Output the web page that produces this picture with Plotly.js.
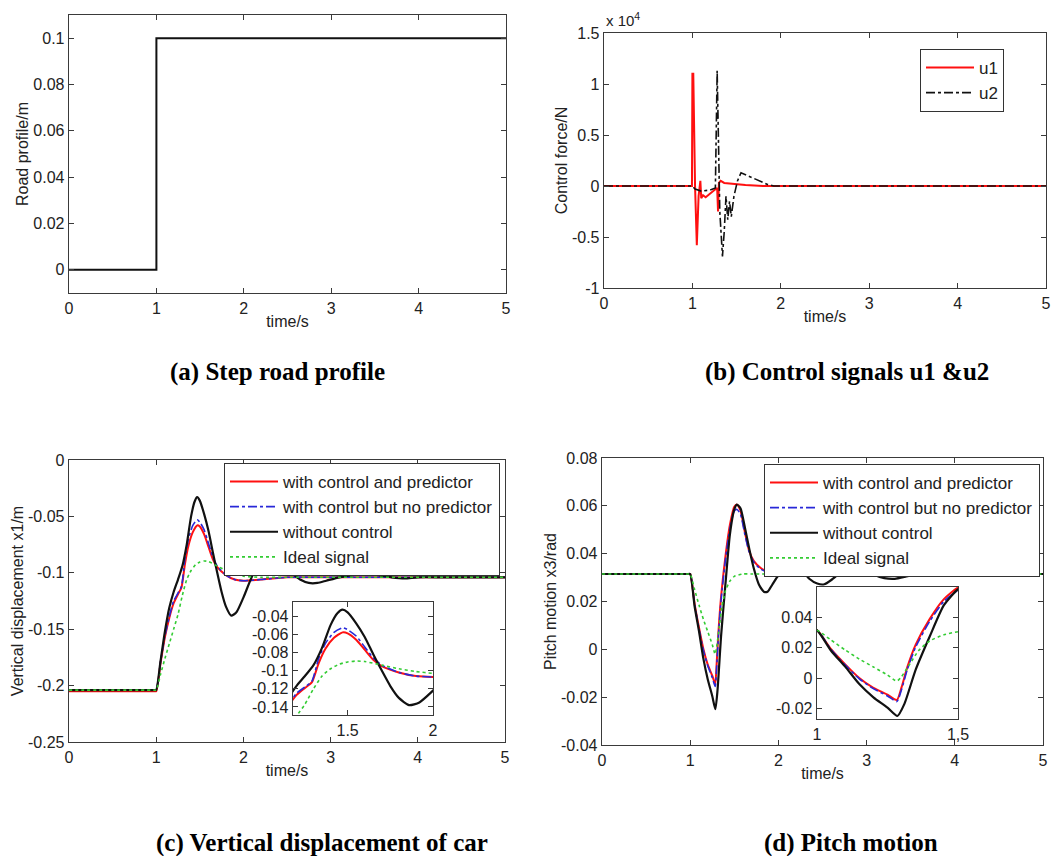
<!DOCTYPE html>
<html><head><meta charset="utf-8">
<script src="https://cdn.plot.ly/plotly-3.0.1.min.js"></script>
<style>html,body{margin:0;padding:0;background:#fff}#chart{width:1051px;height:856px}</style>
</head><body><div id="chart"></div>
<script>
// ---------- (a) Step road profile ----------
const roadT = [0, 1, 1, 5];
const roadY = [0, 0, 0.1, 0.1];

// ---------- (b) Control signals (N) ----------
const u1T = [0, 0.995, 1.0, 1.01, 1.03, 1.05, 1.07, 1.09, 1.1, 1.12, 1.15, 1.2, 1.25, 1.28, 1.29, 1.30, 1.32, 1.36, 1.45, 1.6, 1.8, 5];
const u1  = [0, 0, 11000, 11000, 0, -5800, -1000, 500, -1200, -900, -1100, -700, -400, -200, -2500, 300, 500, 300, 200, 100, 0, 0];
const u2T = [0, 1.0, 1.03, 1.1, 1.2, 1.26, 1.28, 1.29, 1.31, 1.34, 1.36, 1.38, 1.40, 1.42, 1.44, 1.47, 1.51, 1.55, 1.65, 1.75, 1.85, 1.92, 5];
const u2  = [0, 0, -300, -500, -400, -200, 11300, 5000, -2500, -6900, -4500, -1000, -3300, -1500, -3000, -1000, 500, 1300, 900, 500, 150, 0, 0];

// ---------- (c) Vertical displacement x1 (m) ----------
const cPredT = [0, 0.98, 1.0, 1.05, 1.1, 1.15, 1.2, 1.25, 1.29, 1.33, 1.37, 1.42, 1.47, 1.5, 1.55, 1.6, 1.65, 1.7, 1.8, 1.9, 2.0, 2.2, 2.5, 3, 4, 5];
const cPred  = [-0.205, -0.205, -0.205, -0.18, -0.157, -0.14, -0.127, -0.119, -0.113, -0.092, -0.076, -0.064, -0.058, -0.059, -0.066, -0.077, -0.088, -0.095, -0.102, -0.106, -0.107, -0.106, -0.104, -0.104, -0.104, -0.104];
const cNoPredT = [0, 0.98, 1.0, 1.05, 1.1, 1.15, 1.2, 1.25, 1.29, 1.33, 1.37, 1.42, 1.47, 1.5, 1.55, 1.6, 1.65, 1.7, 1.8, 1.9, 2.0, 2.2, 2.5, 3, 4, 5];
const cNoPred  = [-0.204, -0.204, -0.204, -0.179, -0.156, -0.139, -0.125, -0.118, -0.112, -0.087, -0.07, -0.058, -0.053, -0.055, -0.062, -0.074, -0.086, -0.094, -0.102, -0.106, -0.107, -0.106, -0.104, -0.104, -0.104, -0.104];
const cNoCtrlT = [0, 0.98, 1.0, 1.05, 1.1, 1.15, 1.2, 1.25, 1.3, 1.35, 1.4, 1.44, 1.47, 1.5, 1.55, 1.6, 1.65, 1.7, 1.75, 1.8, 1.86, 1.92, 2.0, 2.1, 2.2, 2.3, 2.4, 2.5, 2.65, 2.75, 2.85, 2.95, 3.1, 3.25, 3.4, 3.55, 3.7, 3.85, 4.0, 4.3, 4.6, 5.0];
const cNoCtrl  = [-0.204, -0.204, -0.204, -0.178, -0.152, -0.131, -0.117, -0.106, -0.094, -0.075, -0.05, -0.037, -0.033, -0.036, -0.048, -0.063, -0.082, -0.1, -0.117, -0.13, -0.138, -0.135, -0.122, -0.103, -0.091, -0.088, -0.091, -0.097, -0.106, -0.109, -0.109, -0.107, -0.104, -0.102, -0.101, -0.102, -0.104, -0.105, -0.104, -0.104, -0.104, -0.104];
const cIdealT = [0, 0.98, 1.0, 1.05, 1.1, 1.15, 1.2, 1.25, 1.3, 1.35, 1.4, 1.45, 1.5, 1.55, 1.6, 1.7, 1.8, 1.9, 2.0, 2.2, 2.5, 5];
const cIdeal  = [-0.204, -0.204, -0.204, -0.19, -0.176, -0.163, -0.15, -0.137, -0.12, -0.106, -0.098, -0.093, -0.0905, -0.0895, -0.09, -0.094, -0.098, -0.101, -0.103, -0.104, -0.104, -0.104];

// ---------- (d) Pitch motion x3 (rad) ----------
const dPredT = [0, 0.98, 1.0, 1.05, 1.1, 1.15, 1.2, 1.25, 1.283, 1.3, 1.32, 1.35, 1.4, 1.45, 1.5, 1.53, 1.57, 1.62, 1.67, 1.72, 1.8, 1.9, 2.0, 2.5, 5];
const dPred  = [0.0315, 0.0315, 0.0315, 0.019, 0.009, 0.0, -0.0065, -0.011, -0.0145, -0.006, 0.007, 0.022, 0.039, 0.052, 0.0596, 0.0605, 0.058, 0.049, 0.041, 0.037, 0.034, 0.032, 0.0315, 0.0315, 0.0315];
const dNoPredT = [0, 0.98, 1.0, 1.05, 1.1, 1.15, 1.2, 1.25, 1.283, 1.3, 1.32, 1.35, 1.4, 1.45, 1.5, 1.53, 1.57, 1.62, 1.67, 1.72, 1.8, 1.9, 2.0, 2.5, 5];
const dNoPred  = [0.0315, 0.0315, 0.0315, 0.0188, 0.0085, -0.0005, -0.007, -0.0118, -0.0155, -0.0075, 0.0055, 0.0205, 0.0375, 0.0505, 0.0578, 0.0585, 0.0565, 0.048, 0.0405, 0.0365, 0.0335, 0.032, 0.0315, 0.0315, 0.0315];
const dNoCtrlT = [0, 0.98, 1.0, 1.05, 1.1, 1.15, 1.2, 1.25, 1.285, 1.31, 1.35, 1.4, 1.45, 1.5, 1.53, 1.57, 1.62, 1.67, 1.72, 1.78, 1.84, 1.88, 1.93, 2.0, 2.08, 2.17, 2.26, 2.35, 2.44, 2.52, 2.6, 2.7, 2.8, 2.9, 3.0, 3.1, 3.2, 3.32, 3.45, 3.6, 3.75, 3.9, 4.1, 4.4, 5];
const dNoCtrl  = [0.0315, 0.0315, 0.0315, 0.018, 0.0075, -0.004, -0.0127, -0.0195, -0.025, -0.017, 0.0055, 0.0275, 0.048, 0.0585, 0.0605, 0.059, 0.051, 0.042, 0.034, 0.027, 0.024, 0.0242, 0.027, 0.031, 0.034, 0.0355, 0.0335, 0.0295, 0.0275, 0.0272, 0.029, 0.032, 0.0345, 0.0348, 0.0335, 0.031, 0.0298, 0.0295, 0.0305, 0.0318, 0.0322, 0.0318, 0.0312, 0.0315, 0.0315];
const dIdealT = [0, 0.98, 1.0, 1.05, 1.1, 1.15, 1.2, 1.25, 1.283, 1.3, 1.33, 1.36, 1.4, 1.45, 1.5, 1.6, 1.7, 5];
const dIdeal  = [0.0315, 0.0315, 0.0315, 0.025, 0.0185, 0.0125, 0.0073, 0.002, -0.002, 0.001, 0.0095, 0.018, 0.0245, 0.0285, 0.0305, 0.0315, 0.0315, 0.0315];

// tick labels
const aTickV = [0, 0.02, 0.04, 0.06, 0.08, 0.1], aTickT = ['0', '0.02', '0.04', '0.06', '0.08', '0.1'];
const bTickV = [-10000, -5000, 0, 5000, 10000, 15000], bTickT = ['-1', '-0.5', '0', '0.5', '1', '1.5'];
const cTickV = [-0.25, -0.2, -0.15, -0.1, -0.05, 0], cTickT = ['-0.25', '-0.2', '-0.15', '-0.1', '-0.05', '0'];
const dTickV = [-0.04, -0.02, 0, 0.02, 0.04, 0.06, 0.08], dTickT = ['-0.04', '-0.02', '0', '0.02', '0.04', '0.06', '0.08'];
const ciTickV = [-0.14, -0.12, -0.1, -0.08, -0.06, -0.04], ciTickT = ['-0.14', '-0.12', '-0.1', '-0.08', '-0.06', '-0.04'];
const ciXV = [1.5, 2], ciXT = ['1.5', '2'];
const diTickV = [-0.02, 0, 0.02, 0.04], diTickT = ['-0.02', '0', '0.02', '0.04'];
const diXV = [1, 1.5], diXT = ['1', '1,5'];
const tTickV = [0, 1, 2, 3, 4, 5];

const names = ['with control and predictor', 'with control but no predictor', 'without control', 'Ideal signal'];

const FONT = 'Liberation Sans, Arial, sans-serif';
const RED = '#ff1010', BLUE = '#2828d8', BLK = '#111111', GRN = '#33cc33';

const traces = [];
traces.push({x: roadT, y: roadY, xaxis: 'x', yaxis: 'y', mode: 'lines', line: {color: BLK, width: 2}, showlegend: false});
traces.push({x: u1T, y: u1, xaxis: 'x2', yaxis: 'y2', mode: 'lines', name: 'u1', legend: 'legend', line: {color: RED, width: 2}});
traces.push({x: u2T, y: u2, xaxis: 'x2', yaxis: 'y2', mode: 'lines', name: 'u2', legend: 'legend', line: {color: BLK, width: 1.6, dash: 'dashdot'}});

function four(sets, xa, ya, leg, show) {
  const styles = [
    {color: RED, width: 2},
    {color: BLUE, width: 1.6, dash: 'dashdot'},
    {color: BLK, width: 2.2},
    {color: GRN, width: 1.6, dash: 'dot'}
  ];
  [0, 1, 2, 3].forEach(i => {
    traces.push({x: sets[i][0], y: sets[i][1], xaxis: xa, yaxis: ya, mode: 'lines', name: names[i],
      legend: leg, showlegend: show, line: Object.assign({shape: 'spline', smoothing: 0.6}, styles[i])});
  });
}
const cSets = [[cPredT, cPred], [cNoPredT, cNoPred], [cNoCtrlT, cNoCtrl], [cIdealT, cIdeal]];
const dSets = [[dPredT, dPred], [dNoPredT, dNoPred], [dNoCtrlT, dNoCtrl], [dIdealT, dIdeal]];
four(cSets, 'x3', 'y3', 'legend2', true);
four(dSets, 'x4', 'y4', 'legend3', true);
four(cSets, 'x5', 'y5', 'legend2', false);
four(dSets, 'x6', 'y6', 'legend3', false);

const W = 1051, H = 856;
const fx = p => p / W, fy = p => 1 - p / H;

function ax(extra) {
  return Object.assign({
    showline: true, linecolor: '#3a3a3a', linewidth: 1.3, mirror: 'ticks',
    ticks: 'inside', ticklen: 5, tickcolor: '#3a3a3a', tickwidth: 1,
    showgrid: false, zeroline: false, automargin: false,
    tickfont: {family: FONT, size: 16, color: '#222'}, fixedrange: true
  }, extra);
}
const xt = (txt) => ({text: txt, font: {family: FONT, size: 16, color: '#222'}, standoff: 0});

const legBase = {bordercolor: '#333', borderwidth: 1, bgcolor: '#fff', font: {family: FONT, size: 17, color: '#222'},
  xanchor: 'right', yanchor: 'top', xref: 'paper', yref: 'paper', tracegroupgap: 0, itemwidth: 48};

const layout = {
  width: W, height: H, margin: {l: 0, r: 0, t: 0, b: 0}, paper_bgcolor: '#fff', plot_bgcolor: '#fff',
  font: {family: FONT, size: 16, color: '#222'},
  xaxis: ax({domain: [fx(69), fx(506)], anchor: 'y', range: [0, 5], tickvals: tTickV, title: xt('time/s')}),
  yaxis: ax({domain: [fy(293), fy(15)], anchor: 'x', range: [-0.01, 0.11], tickvals: aTickV, ticktext: aTickT, title: xt('Road profile/m')}),
  xaxis2: ax({domain: [fx(604), fx(1046)], anchor: 'y2', range: [0, 5], tickvals: tTickV, title: xt('time/s')}),
  yaxis2: ax({domain: [fy(288), fy(33)], anchor: 'x2', range: [-10000, 15000], tickvals: bTickV, ticktext: bTickT, title: xt('Control force/N')}),
  xaxis3: ax({domain: [fx(69), fx(505)], anchor: 'y3', range: [0, 5], tickvals: tTickV, title: xt('time/s')}),
  yaxis3: ax({domain: [fy(742), fy(460)], anchor: 'x3', range: [-0.25, 0], tickvals: cTickV, ticktext: cTickT, title: xt('Vertical displacement x1/m')}),
  xaxis4: ax({domain: [fx(602), fx(1043)], anchor: 'y4', range: [0, 5], tickvals: tTickV, title: xt('time/s')}),
  yaxis4: ax({domain: [fy(745), fy(458)], anchor: 'x4', range: [-0.04, 0.08], tickvals: dTickV, ticktext: dTickT, title: xt('Pitch motion x3/rad')}),
  xaxis5: ax({domain: [fx(293), fx(433)], anchor: 'y5', range: [1.18, 2.0], tickvals: ciXV, ticktext: ciXT}),
  yaxis5: ax({domain: [fy(715), fy(602)], anchor: 'x5', range: [-0.1488, -0.0246], tickvals: ciTickV, ticktext: ciTickT}),
  xaxis6: ax({domain: [fx(817), fx(958)], anchor: 'y6', range: [1, 1.5], tickvals: diXV, ticktext: diXT}),
  yaxis6: ax({domain: [fy(719), fy(587)], anchor: 'x6', range: [-0.027, 0.06], tickvals: diTickV, ticktext: diTickT}),
  legend: Object.assign({}, legBase, {x: fx(1004), y: fy(49)}),
  legend2: Object.assign({}, legBase, {x: fx(500), y: fy(463)}),
  legend3: Object.assign({}, legBase, {x: fx(1040), y: fy(464)}),
  showlegend: true,
  annotations: [
    {text: 'x 10<sup>4</sup>', x: fx(604), y: fy(20), xref: 'paper', yref: 'paper', xanchor: 'left', yanchor: 'middle', showarrow: false, font: {family: FONT, size: 15, color: '#222'}},
    {text: '<b>(a) Step road profile</b>', x: fx(277), y: fy(372), xref: 'paper', yref: 'paper', xanchor: 'center', yanchor: 'middle', showarrow: false, font: {family: 'Liberation Serif, Times New Roman, serif', size: 25, color: '#000'}},
    {text: '<b>(b) Control signals u1 &amp;u2</b>', x: fx(847), y: fy(372), xref: 'paper', yref: 'paper', xanchor: 'center', yanchor: 'middle', showarrow: false, font: {family: 'Liberation Serif, Times New Roman, serif', size: 25, color: '#000'}},
    {text: '<b>(c) Vertical displacement of car</b>', x: fx(322), y: fy(843), xref: 'paper', yref: 'paper', xanchor: 'center', yanchor: 'middle', showarrow: false, font: {family: 'Liberation Serif, Times New Roman, serif', size: 25, color: '#000'}},
    {text: '<b>(d) Pitch motion</b>', x: fx(851), y: fy(843), xref: 'paper', yref: 'paper', xanchor: 'center', yanchor: 'middle', showarrow: false, font: {family: 'Liberation Serif, Times New Roman, serif', size: 25, color: '#000'}}
  ]
};

Plotly.newPlot('chart', traces, layout, {displayModeBar: false, staticPlot: true});
</script>
</body></html>
